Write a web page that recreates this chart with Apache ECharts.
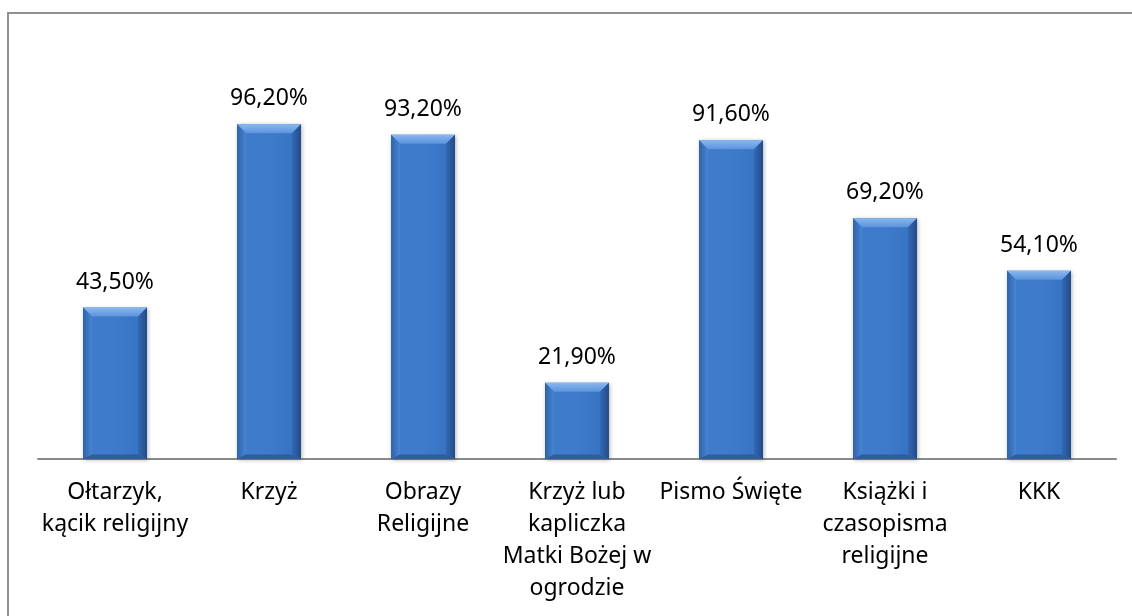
<!DOCTYPE html>
<html>
<head>
<meta charset="utf-8">
<script src="https://cdn.jsdelivr.net/npm/echarts@6/dist/echarts.min.js"></script>
<style>
  html, body { margin: 0; padding: 0; background: #ffffff; }
  #main { width: 1132px; height: 616px; }
</style>
</head>
<body>
<div id="main"></div>
<script>
// dane z wykresu
const categories = [
  'Ołtarzyk,\nkącik religijny',
  'Krzyż',
  'Obrazy\nReligijne',
  'Krzyż lub\nkapliczka\nMatki Bożej w\nogrodzie',
  'Pismo Święte',
  'Książki i\nczasopisma\nreligijne',
  'KKK'
];
const values = [43.5, 96.2, 93.2, 21.9, 91.6, 69.2, 54.1];

const chart = echarts.init(document.getElementById('main'));

const BAR_W = 64;
const BEVEL = 9;

const faceColor = new echarts.graphic.LinearGradient(0, 0, 1, 0, [
  { offset: 0, color: '#3f7ccc' },
  { offset: 0.5, color: '#3e7bcb' },
  { offset: 1, color: '#3671c1' }
]);

// obrys "wypukłego" słupka rysowany przez skale osi
function renderBevel(params, api) {
  const top = api.coord([api.value(0), api.value(1)]);
  const base = api.coord([api.value(0), 0]);
  const x0 = top[0] - BAR_W / 2;
  const x1 = top[0] + BAR_W / 2;
  const y0 = top[1];
  const y1 = base[1];
  const b = BEVEL;
  return {
    type: 'group',
    children: [
      { // góra
        type: 'polygon',
        shape: { points: [[x0, y0], [x1, y0], [x1 - b, y0 + b], [x0 + b, y0 + b]] },
        style: {
          fill: new echarts.graphic.LinearGradient(0, 0, 0, 1, [
            { offset: 0, color: '#8ab8f0' },
            { offset: 1, color: '#5b93dc' }
          ])
        }
      },
      { // lewa
        type: 'polygon',
        shape: { points: [[x0, y0], [x0 + b, y0 + b], [x0 + b, y1 - b / 2], [x0, y1]] },
        style: {
          fill: new echarts.graphic.LinearGradient(0, 0, 1, 0, [
            { offset: 0, color: '#2f62a8' },
            { offset: 1, color: '#4785d3' }
          ])
        }
      },
      { // prawa
        type: 'polygon',
        shape: { points: [[x1, y0], [x1 - b, y0 + b], [x1 - b, y1 - b / 2], [x1, y1]] },
        style: {
          fill: new echarts.graphic.LinearGradient(0, 0, 1, 0, [
            { offset: 0, color: '#3369b4' },
            { offset: 1, color: '#234b88' }
          ])
        }
      },
      { // dół
        type: 'polygon',
        shape: { points: [[x0, y1], [x0 + b, y1 - b / 2], [x1 - b, y1 - b / 2], [x1, y1]] },
        style: { fill: '#2d5c9f' }
      }
    ]
  };
}

const option = {
  backgroundColor: '#ffffff',
  animation: false,
  textStyle: { fontFamily: '"Noto Sans", sans-serif' },
  graphic: [{
    type: 'rect',
    shape: { x: 8, y: 13, width: 1200, height: 700 },
    style: { fill: 'none', stroke: '#909090', lineWidth: 2 },
    silent: true
  }],
  grid: { left: 38, right: 16, top: 111, bottom: 157 },
  xAxis: {
    type: 'category',
    data: categories,
    axisLine: { lineStyle: { color: '#8a8a8a', width: 2 } },
    axisTick: { show: false },
    axisLabel: {
      interval: 0,
      margin: 17,
      color: '#000000',
      fontSize: 23,
      lineHeight: 32,
      fontFamily: '"Noto Sans", sans-serif'
    }
  },
  yAxis: {
    type: 'value',
    min: 0,
    max: 100,
    show: false,
    splitLine: { show: false }
  },
  series: [{
    type: 'bar',
    data: values,
    barWidth: BAR_W,
    z: 2,
    itemStyle: {
      color: faceColor,
      shadowColor: 'rgba(0,0,0,0.3)',
      shadowBlur: 4,
      shadowOffsetX: 1,
      shadowOffsetY: 1
    },
    label: {
      show: true,
      position: 'top',
      distance: 14,
      color: '#000000',
      fontSize: 23,
      fontFamily: '"Noto Sans", sans-serif',
      formatter: p => p.value.toFixed(2).replace('.', ',') + '%'
    }
  }, {
    type: 'custom',
    z: 3,
    silent: true,
    renderItem: renderBevel,
    encode: { x: 0, y: 1 },
    data: values.map((v, i) => [i, v])
  }]
};

chart.setOption(option);
</script>
</body>
</html>
